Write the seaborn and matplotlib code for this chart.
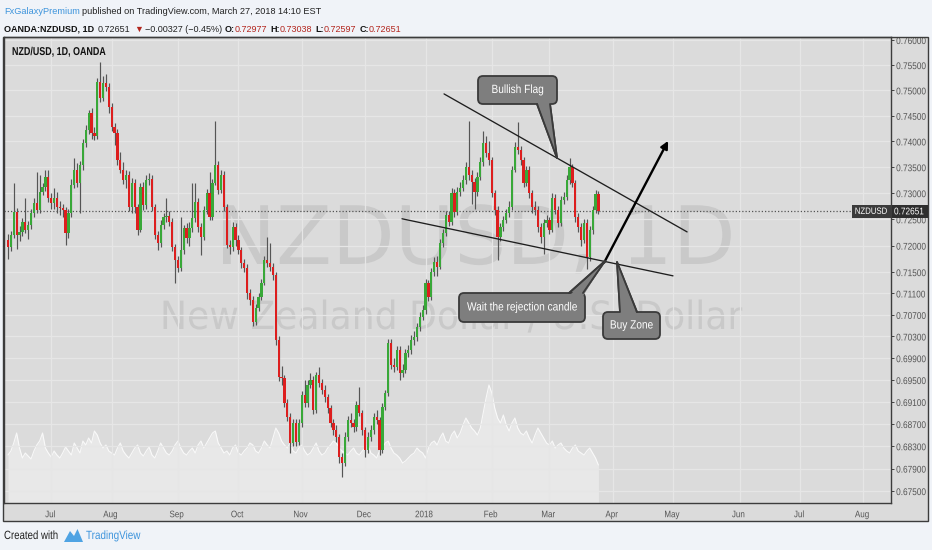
import numpy as np
import pandas as pd
import matplotlib
matplotlib.use("Agg")
import matplotlib.pyplot as plt
import seaborn as sns
from matplotlib import patheffects
from matplotlib.patches import FancyBboxPatch, Polygon, Rectangle
from matplotlib.transforms import Affine2D
from matplotlib.lines import Line2D

# ---------------- data ----------------
start_date = "2017-06-12"
closes = [
    .7197, .7220, .7264, .7220, .7226, .7245, .7230, .7239, .7262, .7281,
    .7268, .7302, .7312, .7331, .7291, .7281, .7291, .7273, .7272, .7268,
    .7224, .7262, .7316, .7345, .7320, .7354, .7397, .7422, .7456, .7416,
    .7410, .7517, .7485, .7515, .7507, .7467, .7428, .7416, .7364, .7345,
    .7325, .7335, .7273, .7320, .7273, .7230, .7312, .7277, .7325, .7328,
    .7273, .7220, .7205, .7239, .7254, .7256, .7245, .7197, .7173, .7158,
    .7192, .7233, .7214, .7233, .7252, .7283, .7235, .7216, .7268, .7300,
    .7254, .7320, .7354, .7306, .7335, .7273, .7201, .7197, .7235, .7211,
    .7192, .7167, .7158, .7111, .7098, .7057, .7083, .7103, .7130, .7173,
    .7167, .7160, .7145, .7023, .6956, .6954, .6908, .6883, .6836, .6872,
    .6838, .6872, .6923, .6908, .6941, .6950, .6895, .6959, .6945, .6932,
    .6919, .6899, .6872, .6859, .6847, .6811, .6800, .6847, .6877, .6872,
    .6865, .6904, .6890, .6859, .6823, .6847, .6859, .6883, .6877, .6823,
    .6901, .6926, .7018, .6977, .6974, .7005, .6963, .6968, .6999, .7005,
    .7023, .7029, .7047, .7066, .7079, .7130, .7103, .7150, .7169, .7160,
    .7205, .7224, .7258, .7245, .7300, .7264, .7302, .7310, .7325, .7350,
    .7335, .7321, .7302, .7331, .7360, .7397, .7378, .7364, .7300, .7268,
    .7216, .7235, .7249, .7262, .7273, .7345, .7389, .7383, .7364, .7320,
    .7345, .7300, .7273, .7268, .7235, .7216, .7243, .7249, .7230, .7291,
    .7268, .7243, .7287, .7293, .7325, .7350, .7320, .7254, .7235, .7211,
    .7243, .7178, .7230, .7268, .7298, .72651,
]
opens = [
    .7211, .7197, .7220, .7264, .7220, .7226, .7245, .7230, .7239, .7262,
    .7281, .7268, .7302, .7312, .7331, .7291, .7281, .7291, .7273, .7272,
    .7268, .7224, .7262, .7316, .7345, .7320, .7354, .7397, .7422, .7456,
    .7416, .7410, .7517, .7485, .7515, .7507, .7467, .7428, .7416, .7364,
    .7345, .7325, .7335, .7273, .7320, .7273, .7230, .7312, .7277, .7325,
    .7328, .7273, .7220, .7205, .7239, .7254, .7256, .7245, .7197, .7173,
    .7158, .7192, .7233, .7214, .7233, .7252, .7283, .7235, .7216, .7268,
    .7300, .7254, .7320, .7354, .7306, .7335, .7273, .7201, .7197, .7235,
    .7211, .7192, .7167, .7158, .7111, .7098, .7057, .7083, .7103, .7130,
    .7173, .7167, .7160, .7145, .7023, .6956, .6954, .6908, .6883, .6836,
    .6872, .6838, .6872, .6923, .6908, .6941, .6950, .6895, .6959, .6945,
    .6932, .6919, .6899, .6872, .6859, .6847, .6811, .6800, .6847, .6877,
    .6872, .6865, .6904, .6890, .6859, .6823, .6847, .6859, .6883, .6877,
    .6823, .6901, .6926, .7018, .6977, .6974, .7005, .6963, .6968, .6999,
    .7005, .7023, .7029, .7047, .7066, .7079, .7130, .7103, .7150, .7169,
    .7160, .7205, .7224, .7258, .7245, .7300, .7264, .7302, .7310, .7325,
    .7350, .7335, .7321, .7302, .7331, .7360, .7397, .7378, .7364, .7300,
    .7268, .7216, .7235, .7249, .7262, .7273, .7345, .7389, .7383, .7364,
    .7320, .7345, .7300, .7273, .7268, .7235, .7216, .7243, .7249, .7230,
    .7291, .7268, .7243, .7287, .7293, .7325, .7350, .7320, .7254, .7235,
    .7211, .7243, .7178, .7230, .7268, .72977,
]
highs = [
    .7222, .7228, .7320, .7272, .7238, .7252, .7290, .7246, .7270, .7290,
    .7341, .7335, .7320, .7345, .7345, .7300, .7310, .7302, .7285, .7280,
    .7274, .7270, .7328, .7368, .7358, .7362, .7405, .7432, .7462, .7465,
    .7428, .7525, .7556, .7528, .7532, .7515, .7475, .7436, .7425, .7380,
    .7360, .7344, .7342, .7330, .7328, .7280, .7320, .7322, .7335, .7338,
    .7335, .7280, .7228, .7248, .7262, .7290, .7265, .7252, .7204, .7180,
    .7254, .7240, .7242, .7245, .7320, .7320, .7290, .7242, .7275, .7308,
    .7341, .7328, .7440, .7362, .7345, .7342, .7280, .7210, .7245, .7242,
    .7220, .7198, .7175, .7165, .7118, .7105, .7090, .7110, .7138, .7180,
    .7216, .7205, .7168, .7150, .7030, .6975, .6960, .6915, .6890, .6880,
    .6880, .6880, .6930, .6950, .6950, .6963, .6958, .6965, .6974, .6952,
    .6940, .6925, .6905, .6880, .6868, .6852, .6818, .6855, .6885, .6890,
    .6880, .6912, .6937, .6895, .6865, .6855, .6868, .6890, .6895, .6882,
    .6908, .6932, .7025, .7025, .6990, .7012, .7012, .6980, .7006, .7015,
    .7032, .7040, .7055, .7075, .7088, .7138, .7136, .7158, .7178, .7180,
    .7212, .7232, .7266, .7265, .7310, .7308, .7312, .7322, .7335, .7360,
    .7440, .7345, .7330, .7340, .7370, .7420, .7410, .7400, .7370, .7306,
    .7275, .7242, .7256, .7270, .7285, .7352, .7398, .7438, .7392, .7370,
    .7352, .7352, .7306, .7285, .7275, .7242, .7250, .7258, .7255, .7300,
    .7298, .7275, .7295, .7302, .7335, .7368, .7356, .7326, .7262, .7242,
    .7250, .7250, .7238, .7275, .7306, .73038,
]
lows = [
    .7175, .7190, .7215, .7193, .7208, .7219, .7224, .7212, .7232, .7255,
    .7262, .7262, .7296, .7305, .7283, .7270, .7270, .7262, .7258, .7255,
    .7201, .7215, .7255, .7310, .7312, .7262, .7345, .7390, .7415, .7405,
    .7402, .7405, .7478, .7480, .7498, .7455, .7420, .7394, .7355, .7338,
    .7318, .7310, .7265, .7262, .7262, .7220, .7225, .7268, .7270, .7315,
    .7265, .7212, .7192, .7198, .7232, .7245, .7238, .7190, .7130, .7150,
    .7152, .7185, .7205, .7200, .7225, .7245, .7225, .7182, .7210, .7260,
    .7248, .7248, .7315, .7298, .7300, .7265, .7195, .7185, .7190, .7200,
    .7185, .7158, .7150, .7100, .7088, .7050, .7052, .7078, .7098, .7125,
    .7160, .7152, .7135, .7015, .6948, .6940, .6900, .6875, .6818, .6830,
    .6830, .6832, .6865, .6900, .6900, .6935, .6888, .6890, .6938, .6925,
    .6910, .6890, .6865, .6850, .6838, .6800, .6775, .6795, .6840, .6865,
    .6855, .6858, .6885, .6850, .6811, .6818, .6840, .6852, .6870, .6815,
    .6818, .6895, .6920, .6970, .6965, .6968, .6950, .6955, .6962, .6992,
    .6998, .7015, .7022, .7040, .7060, .7072, .7095, .7098, .7143, .7143,
    .7155, .7198, .7218, .7238, .7240, .7255, .7258, .7295, .7305, .7318,
    .7325, .7280, .7270, .7295, .7325, .7352, .7370, .7355, .7292, .7258,
    .7173, .7208, .7228, .7242, .7255, .7268, .7340, .7375, .7355, .7312,
    .7313, .7290, .7262, .7258, .7225, .7205, .7185, .7235, .7222, .7225,
    .7260, .7235, .7238, .7280, .7287, .7318, .7312, .7245, .7225, .7200,
    .7205, .7155, .7170, .7222, .7262, .72597,
]
volumes = [
    48, 52, 60, 70, 55, 45, 50, 47, 44, 52, 58, 62, 70, 55, 50, 46, 52, 48, 45, 50,
    56, 52, 48, 60, 55, 50, 62, 58, 65, 60, 72, 68, 60, 55, 58, 52, 50, 48, 55, 60,
    52, 48, 45, 50, 55, 58, 50, 47, 52, 56, 48, 45, 52, 60, 55, 50, 48, 52, 58, 62,
    55, 50, 48, 52, 55, 50, 58, 62, 55, 60, 65, 70, 72, 60, 55, 50, 52, 48, 55, 58,
    50, 48, 52, 55, 60, 58, 52, 50, 55, 62, 58, 55, 65, 75, 70, 62, 58, 55, 60, 52,
    50, 55, 58, 52, 48, 50, 55, 60, 52, 48, 50, 55, 58, 62, 60, 55, 52, 50, 48, 52,
    55, 50, 48, 52, 55, 58, 50, 48, 45, 52, 55, 60, 62, 55, 50, 48, 45, 40, 42, 45,
    48, 50, 55, 52, 50, 45, 55, 60, 62, 58, 65, 70, 62, 60, 68, 72, 65, 70, 78, 85,
    80, 75, 72, 68, 75, 90, 105, 118, 110, 95, 85, 80, 88, 78, 72, 80, 85, 75, 70, 68,
    72, 65, 60, 68, 75, 70, 65, 60, 58, 62, 55, 58, 60, 55, 52, 50, 55, 58, 52, 50,
    48, 52, 55, 50, 45, 38,
]
price_ticks = [0.760, 0.755, 0.750, 0.745, 0.740, 0.735, 0.730, 0.725, 0.720, 0.715,
               0.711, 0.707, 0.703, 0.699, 0.695, 0.691, 0.687, 0.683, 0.679, 0.675]
# drawings (anchored at bar index / price)
upper_trend = [(151.4, 0.7493), (235.8, 0.7226)]
lower_trend = [(136.8, 0.7251), (230.9, 0.7143)]
arrow_path = [(207.0, 0.7168), (229.2, 0.7401)]

symbol = "NZDUSD"
title = "NZD/USD, 1D, OANDA"
wm_line1 = "NZDUSD, 1D"
wm_line2 = "New Zealand Dollar / U.S. Dollar"

# ---------------- style ----------------
sns.set_theme(style="white")
FONT = ["Liberation Sans", "DejaVu Sans"]
plt.rcParams["font.family"] = FONT

W, H, DPI = 932, 550, 100
PAGE = "#f0f3f8"
CHART_BG = "#dbdbdb"
GRID = "#e6e6e6"
UP, DOWN, WICK = "#38a838", "#dd1e1e", "#555555"
BLUE = "#3d94dc"
DARKRED = "#b3261e"

fig = plt.figure(figsize=(W / DPI, H / DPI), dpi=DPI, facecolor=PAGE)
PX = Affine2D().scale(1 / DPI) + fig.dpi_scale_trans
rend = fig.canvas.get_renderer()


class Squeeze(patheffects.AbstractPathEffect):
    """Draw text glyphs compressed horizontally (condensed look)."""

    def __init__(self, sx):
        super().__init__()
        self.sx = sx

    def draw_path(self, renderer, gc, tpath, affine, rgbFace=None):
        renderer.draw_path(gc, tpath, Affine2D().scale(self.sx, 1) + affine, rgbFace)


def pt(x, y):
    return (x, H - y)


def raw_width(s, size, weight="normal", family=None):
    kw = {} if family is None else {"family": family}
    tx = fig.text(0, 0, s, fontsize=size, fontweight=weight, transform=PX, **kw)
    w = tx.get_window_extent(rend).width * DPI / fig.dpi
    tx.remove()
    return w


def put(x, y, s, size, sx=1.0, color="#222222", weight="normal", ha="left",
        zorder=10, family=None, ax_layer=None):
    w = raw_width(s, size, weight, family)
    xl = x if ha == "left" else x - sx * w / 2
    kw = {} if family is None else {"family": family}
    pe = [Squeeze(sx)] if sx != 1.0 else []
    holder = fig if ax_layer is None else ax_layer
    tx = holder.text(xl, H - y, s, fontsize=size, fontweight=weight, color=color,
                     transform=PX, ha="left", va="center", zorder=zorder,
                     path_effects=pe, **kw)
    return xl + sx * w


def run(x, y, pieces, size, target, zorder=10):
    """Lay out coloured pieces on one line, font size chosen to fill target width."""
    tot = sum(raw_width(t, size, wg) for t, _, wg, _ in pieces)
    gaps = sum(g for *_, g in pieces)
    s = size * (target - gaps) / tot
    cx = x
    for t, col, wg, g in pieces:
        cx = put(cx, y, t, s, 1.0, col, wg, zorder=zorder) + g


# chart frame / band background
fig.add_artist(Rectangle(pt(3, 521), 925, 484, transform=PX, fc=CHART_BG,
                         ec="none", zorder=-2))

L, R, T, B = 4, 891, 37, 503
rect = [L / W, 1 - B / H, (R - L) / W, (B - T) / H]
X0, DX = 8.0, 2.88
xlim = ((L - X0) / DX, (R - X0) / DX)
ylim = (0.76 * np.exp(-(B - 40) / 3803.0), 0.76 * np.exp((40 - T) / 3803.0))

n = len(closes)
idx = np.arange(n)
o = np.array(opens); c = np.array(closes); hi = np.array(highs); lo = np.array(lows)

# volume layer (bottom)
vax = fig.add_axes(rect, zorder=0)
vax.set_facecolor(CHART_BG)
vax.set_xlim(*xlim)
vax.set_ylim(0, 466)
vax.fill_between(idx, 0, volumes, color="white", alpha=0.38, lw=0)
sns.lineplot(x=idx, y=volumes, ax=vax, color="white", lw=0.8, alpha=0.8)
vax.set_axis_off()

# price layer
ax = fig.add_axes(rect, zorder=1)
ax.patch.set_visible(False)
ax.set_yscale("log")
ax.set_xlim(*xlim)
ax.set_ylim(*ylim)

dates = pd.bdate_range(start_date, periods=330)
mpos, mlab = [], []
for i in range(1, len(dates)):
    if dates[i].month != dates[i - 1].month and i < xlim[1]:
        mpos.append(i)
        mlab.append("2018" if dates[i].month == 1 else dates[i].strftime("%b"))
ax.set_xticks(mpos)
ax.set_xticklabels(mlab)
ax.yaxis.tick_right()
ax.set_yticks(price_ticks)
ax.set_yticklabels([f"{v:.5f}" for v in price_ticks])
ax.yaxis.set_minor_locator(matplotlib.ticker.NullLocator())
ax.yaxis.set_minor_formatter(matplotlib.ticker.NullFormatter())
ax.tick_params(axis="both", direction="out", length=2.2, width=0.7, color="#444444",
               labelcolor="#555555", pad=1.5)
ax.tick_params(axis="y", labelsize=7.0)
ax.tick_params(axis="x", labelsize=6.8, pad=3)
for lab in ax.get_yticklabels():
    lab.set_path_effects([Squeeze(0.85)])
for lab in ax.get_xticklabels():
    lab.set_path_effects([Squeeze(0.85)])
ax.grid(True, color=GRID, lw=0.9, zorder=0)
ax.set_axisbelow(True)
for s in ax.spines.values():
    s.set_color("#3c3c3c"); s.set_linewidth(1.0)

# candles
ax.vlines(idx, lo, hi, color=WICK, lw=0.85, zorder=2)
body_lo = np.minimum(o, c)
body_h = np.maximum(np.abs(c - o), 0.00006)
cols = [UP if cc >= oo else DOWN for oo, cc in zip(o, c)]
ax.bar(idx, body_h, bottom=body_lo, width=0.78, color=cols, lw=0, zorder=3)

# last-price dotted line
ax.axhline(c[-1], color="#555555", lw=0.9, ls=(0, (1, 1.6)), zorder=2.5)

# trend lines and arrow
for seg in (upper_trend, lower_trend):
    xs, ys = zip(*seg)
    sns.lineplot(x=list(xs), y=list(ys), ax=ax, color="#1e1e1e", lw=0.95, zorder=4)
ax.annotate("", xy=arrow_path[1], xytext=arrow_path[0],
            arrowprops=dict(arrowstyle="-|>", lw=1.7, color="black",
                            mutation_scale=11, shrinkA=0, shrinkB=0), zorder=5)

fig.canvas.draw()

# watermark (on the bottom layer, under the candles)
for line, cx, cy, size, width in ((wm_line1, 475, 242, 58, 520),
                                  (wm_line2, 451, 318, 28, 582)):
    w = raw_width(line, size, family="DejaVu Sans")
    put(cx, cy, line, size, width / w, "#c9c9c9", ha="center", zorder=0.5,
        family="DejaVu Sans", ax_layer=vax)

# ---------- overlays in pixel coordinates ----------
fig.add_artist(Rectangle(pt(3, 521), 925, 484, transform=PX, fc="none",
                         ec="#3c3c3c", lw=1.0, zorder=8))

ly = H - ax.transData.transform((0, c[-1]))[1] * DPI / fig.dpi
fig.add_artist(Rectangle(pt(852, ly + 6.5), 38.5, 13, transform=PX, fc="#3b3b3b",
                         ec="none", zorder=9))
fig.add_artist(Rectangle(pt(891.5, ly + 6.5), 36.5, 13, transform=PX, fc="#2e2e2e",
                         ec="none", zorder=9))
put(871, ly, symbol, 6.6, 0.85, "white", ha="center", zorder=10)
put(894, ly, f"{c[-1]:.5f}", 7.0, 0.85, "white", zorder=10)

run(4, 12, [("FxGalaxyPremium", BLUE, "normal", 2),
            ("published on TradingView.com, March 27, 2018 14:10 EST", "#222222",
             "normal", 0)], 8.8, 318)
run(4, 29, [("OANDA:NZDUSD, 1D", "#111111", "bold", 4),
            ("0.72651", "#222222", "normal", 3),
            ("▼", DARKRED, "normal", 2),
            ("−0.00327 (−0.45%)", "#222222", "normal", 3),
            ("O:", "#111111", "bold", 0), ("0.72977", DARKRED, "normal", 3),
            ("H:", "#111111", "bold", 0), ("0.73038", DARKRED, "normal", 3),
            ("L:", "#111111", "bold", 0), ("0.72597", DARKRED, "normal", 3),
            ("C:", "#111111", "bold", 0), ("0.72651", DARKRED, "normal", 0)], 8.8, 400)
put(12, 52, title, 8.2, 94 / raw_width(title, 8.2, "bold"), "#111111", "bold")
put(4, 536, "Created with", 8.6, 54 / raw_width("Created with", 8.6), "#222222")
put(86, 536, "TradingView", 8.6, 54 / raw_width("TradingView", 8.6), BLUE)
fig.add_artist(Polygon([pt(64, 542), pt(70, 531), pt(74, 536), pt(77.5, 529),
                        pt(83, 542)], closed=True, transform=PX, fc="#4fa3e3",
                       ec="none", zorder=10))

# callouts
CF, CE = "#7e7e7e", "#3a3a3a"
CS = 8.6
CSX = 110 / raw_width("Wait the rejection candle", CS)


def callout(x0, y0, x1, y1, base, tip, text):
    b1, b2 = base
    pts = [pt(*b1), pt(*tip), pt(*b2)]
    fig.add_artist(Polygon(pts, closed=True, transform=PX, fc=CF, ec=CE, lw=1.3, zorder=11))
    fig.add_artist(FancyBboxPatch(pt(x0, y1), x1 - x0, y1 - y0,
                                  boxstyle="round,pad=0,rounding_size=5", transform=PX,
                                  fc=CF, ec=CE, lw=1.3, zorder=12))
    cy = (y0 + y1) / 2
    sh = 3 if cy > b1[1] else -3
    inner = [pt(b1[0], b1[1] + sh), pt(*tip), pt(b2[0], b2[1] + sh)]
    fig.add_artist(Polygon(inner, closed=True, transform=PX, fc=CF, ec="none", zorder=13))
    for b in (b1, b2):
        fig.add_artist(Line2D([b[0], tip[0]], [H - b[1], H - tip[1]],
                              transform=PX, color=CE, lw=1.3, zorder=13))
    put((x0 + x1) / 2, cy, text, CS, CSX, "white", ha="center", zorder=14)


callout(478, 76, 557, 104, [(537, 104), (550, 104)], (557, 158), "Bullish Flag")
callout(459, 293, 585, 322, [(569, 293), (583, 293)], (605, 261), "Wait the rejection candle")
callout(603, 312, 660, 339, [(620, 312), (637, 312)], (617, 262), "Buy Zone")

fig.savefig("out.png", dpi=DPI, facecolor=PAGE)
